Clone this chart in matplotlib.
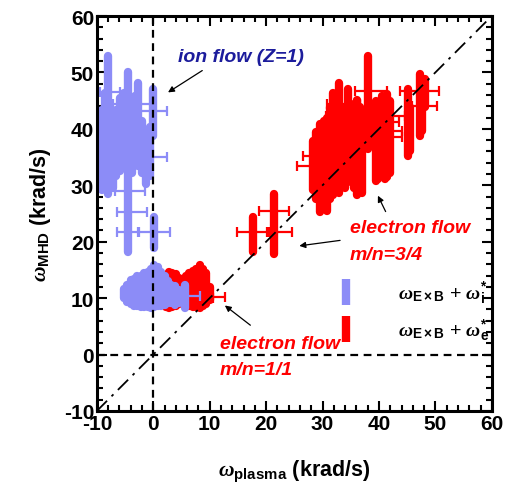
import matplotlib
matplotlib.use("Agg")
import matplotlib.pyplot as plt
import numpy as np
from matplotlib.lines import Line2D

plt.rcParams["font.family"] = ["Liberation Sans", "DejaVu Sans"]
plt.rcParams["font.weight"] = "bold"
plt.rcParams["axes.unicode_minus"] = False
plt.rcParams["mathtext.fontset"] = "custom"
plt.rcParams["mathtext.rm"] = "Liberation Sans"
plt.rcParams["mathtext.it"] = "Liberation Serif:italic"
plt.rcParams["mathtext.bf"] = "Liberation Sans:bold"

BLUE = "#8c8cf7"
RED = "#ff0000"
NAVY = "#1c1c9c"

# ion branch (omega_ExB + omega*_i): vertical spread of each measurement
ion_x = [-9.5, -9.0, -8.5, -8.0, -7.2, -6.6, -5.9, -5.2, -4.45, -3.8, -3.2,
         -2.7, -2.0, -1.2, -0.6, 0.0, 0.1,
         -5.2, -4.6, -4.0, -3.4, -2.8, -2.2, -1.6, -1.0, -0.4, 0.2, 0.8,
         1.4, 2.0, 2.6, 3.2, 3.8, 4.5, 5.6]
ion_lo = [29.5, 28.5, 29.0, 27.9, 29.0, 31.0, 32.0, 33.4, 17.5, 31.5, 33.0,
          32.9, 31.5, 29.7, 31.0, 38.2, 18.2,
          9.4, 8.8, 8.3, 8.0, 8.0, 7.9, 7.8, 7.8, 7.7, 7.8, 8.0,
          8.0, 8.2, 8.5, 8.6, 8.2, 8.5, 7.7]
ion_hi = [43.0, 44.0, 47.0, 53.6, 43.2, 44.0, 46.0, 47.0, 50.6, 45.0, 46.5,
          48.8, 42.0, 40.3, 41.0, 47.6, 24.9,
          12.2, 13.0, 13.8, 14.0, 14.6, 14.6, 15.0, 15.2, 15.8, 16.4, 16.2,
          15.2, 14.6, 13.6, 13.0, 12.8, 12.0, 12.9]

# ion branch horizontal error bars
ion_hx = [-7.7, -3.7, 0.0, -5.2, -3.25, -7.8, -8.2, -8.2, -0.7, -7.8, -4.15,
          -3.8, -4.45, 0.1, -4.2, -3.9, 5.6]
ion_hy = [46.5, 44.4, 43.2, 42.3, 38.7, 38.2, 36.8, 35.9, 35.0, 33.8, 29.0,
          25.3, 21.7, 21.7, 10.4, 11.3, 10.4]
ion_xerr = [1.8, 3.5, 2.4, 2.5, 2.15, 1.2, 1.0, 0.8, 3.1, 0.8, 2.65,
            2.7, 2.0, 2.8, 1.2, 1.0, 2.6]

# electron branch (omega_ExB + omega*_e)
ele_x = [2.2, 2.8, 3.4, 4.0, 4.6, 5.2, 5.8, 6.4, 7.0, 7.6, 8.2, 8.8, 9.4,
         10.0,
         17.7, 21.4,
         28.3, 28.9, 29.5, 30.2, 30.8, 31.3, 31.8, 32.4, 32.9, 33.5, 34.0,
         34.5, 35.1, 35.6, 36.1, 36.6, 37.0, 38.0,
         39.4, 39.9, 40.5, 41.0, 41.5, 42.0, 45.1, 45.5, 47.2, 47.7, 48.1]
ele_lo = [7.8, 7.7, 7.8, 8.0, 8.3, 8.5, 8.2, 8.0, 7.8, 7.8, 7.7, 8.0, 8.3,
          9.0,
          17.5, 17.3,
          28.5, 27.0, 24.6, 25.5, 24.9, 27.0, 27.6, 28.5, 28.1, 29.5, 29.0,
          31.1, 30.0, 29.0, 27.6, 28.5, 28.1, 35.9,
          30.2, 30.6, 31.0, 30.5, 30.8, 31.5, 34.6, 35.5, 38.2, 39.0, 43.2]
ele_hi = [14.5, 15.2, 15.0, 14.8, 14.2, 14.0, 14.6, 15.0, 15.4, 15.8, 16.4,
          15.8, 15.0, 12.5,
          24.9, 29.0,
          38.5, 40.0, 41.4, 42.0, 42.6, 44.5, 47.0, 45.5, 48.8, 44.0, 44.5,
          47.6, 45.0, 44.5, 45.8, 44.5, 44.0, 53.6,
          45.6, 45.0, 46.5, 46.0, 46.7, 45.5, 47.6, 44.5, 50.3, 49.0, 49.5]

ele_hx = [8.2, 10.2, 21.4, 17.7, 22.4,
          38.6, 47.2, 33.7, 48.1, 33.8, 41.4, 40.5, 41.4, 41.2, 29.0, 28.3]
ele_hy = [10.0, 10.2, 25.4, 21.7, 21.7,
          46.7, 46.7, 44.4, 44.1, 42.3, 42.3, 41.2, 39.6, 38.5, 35.2, 33.4]
ele_xerr = [2.3, 2.6, 2.6, 2.9, 2.2,
            2.8, 3.5, 2.9, 2.2, 3.2, 3.2, 3.0, 2.6, 2.8, 2.5, 2.9]

fig = plt.figure(figsize=(5.07, 4.89), dpi=100)
ax = fig.add_axes([0.191, 0.1575, 0.779, 0.8077])


def draw_branch(ax, x, lo, hi, hx, hy, xerr, color):
    lo = np.array(lo)
    hi = np.array(hi)
    cap = 0.6  # round caps stick out by half the line width
    y = (lo + hi) / 2
    yerr = (hi - lo) / 2 - cap
    eb = ax.errorbar(x, y, yerr=yerr, fmt="none", ecolor=color,
                     elinewidth=6.0, capsize=0, zorder=2)
    eb[2][0].set_capstyle("round")
    ax.errorbar(hx, hy, xerr=xerr, fmt="none", ecolor=color,
                elinewidth=1.6, capsize=3.5, capthick=1.6, zorder=2)


draw_branch(ax, ele_x, ele_lo, ele_hi, ele_hx, ele_hy, ele_xerr, RED)
draw_branch(ax, ion_x, ion_lo, ion_hi, ion_hx, ion_hy, ion_xerr, BLUE)

ax.axhline(0, color="k", lw=1.6, ls=(0, (3.5, 2.5)), zorder=3)
ax.axvline(0, color="k", lw=1.6, ls=(0, (3.5, 2.5)), zorder=3)
ax.plot([-10, 60], [-10, 60], color="k", lw=1.3,
        ls=(0, (8, 3.5, 1.5, 3.5)), zorder=3)

ax.set_xlim(-10, 60)
ax.set_ylim(-10, 60)
ax.set_xticks(np.arange(-10, 61, 10))
ax.set_yticks(np.arange(-10, 61, 10))
ax.set_xticks(np.arange(-10, 61, 2), minor=True)
ax.set_yticks(np.arange(-10, 61, 2), minor=True)
ax.tick_params(which="both", direction="in", top=True, right=True,
               labelsize=15, width=1.5)
ax.tick_params(which="major", length=7, pad=2)
ax.tick_params(which="minor", length=4)
for s in ax.spines.values():
    s.set_linewidth(2.2)

ax.set_xlabel(r"$\mathit{\omega}_{\mathbf{plasma}}$ (krad/s)", fontsize=15.5,
              fontweight="bold", labelpad=18)
ax.set_ylabel(r"$\mathit{\omega}_{\mathbf{MHD}}$ (krad/s)", fontsize=15.5,
              fontweight="bold", labelpad=8)

ann = dict(fontsize=14, fontweight="bold", style="italic")
ax.text(4.35, 52.9, "ion flow (Z=1)", color=NAVY, va="center", **ann)
ax.annotate("", xy=(2.2, 46.2), xytext=(9.1, 50.6),
            arrowprops=dict(arrowstyle="-|>", color="k", lw=0.9,
                            mutation_scale=9))

ax.text(34.8, 22.6, "electron flow", color=RED, va="center", **ann)
ax.text(34.8, 17.8, "m/n=3/4", color=RED, va="center", **ann)
ax.annotate("", xy=(25.4, 19.2), xytext=(33.6, 20.3),
            arrowprops=dict(arrowstyle="-|>", color="k", lw=0.9,
                            mutation_scale=9))
ax.annotate("", xy=(39.6, 28.6), xytext=(41.4, 24.9),
            arrowprops=dict(arrowstyle="-|>", color="k", lw=0.9,
                            mutation_scale=9))

ax.text(11.8, 1.9, "electron flow", color=RED, va="center", **ann)
ax.text(11.8, -2.6, "m/n=1/1", color=RED, va="center", **ann)
ax.annotate("", xy=(12.3, 9.0), xytext=(17.6, 4.9),
            arrowprops=dict(arrowstyle="-|>", color="k", lw=0.9,
                            mutation_scale=9))

handles = [Line2D([], [], color=BLUE, marker="|", markersize=19,
                  markeredgewidth=6, linestyle="none"),
           Line2D([], [], color=RED, marker="|", markersize=19,
                  markeredgewidth=6, linestyle="none")]
labels = [r"$\mathit{\omega}_{\mathrm{E\times B}}$ + $\mathit{\omega}^{*}_{\mathrm{i}}$",
          r"$\mathit{\omega}_{\mathrm{E\times B}}$ + $\mathit{\omega}^{*}_{\mathrm{e}}$"]
ax.legend(handles, labels, loc="center", bbox_to_anchor=(0.8, 0.252),
          frameon=False, prop=dict(size=14, weight="normal"),
          handlelength=1.0, handletextpad=2.2, labelspacing=0.55)

fig.savefig("out.png", dpi=100)
